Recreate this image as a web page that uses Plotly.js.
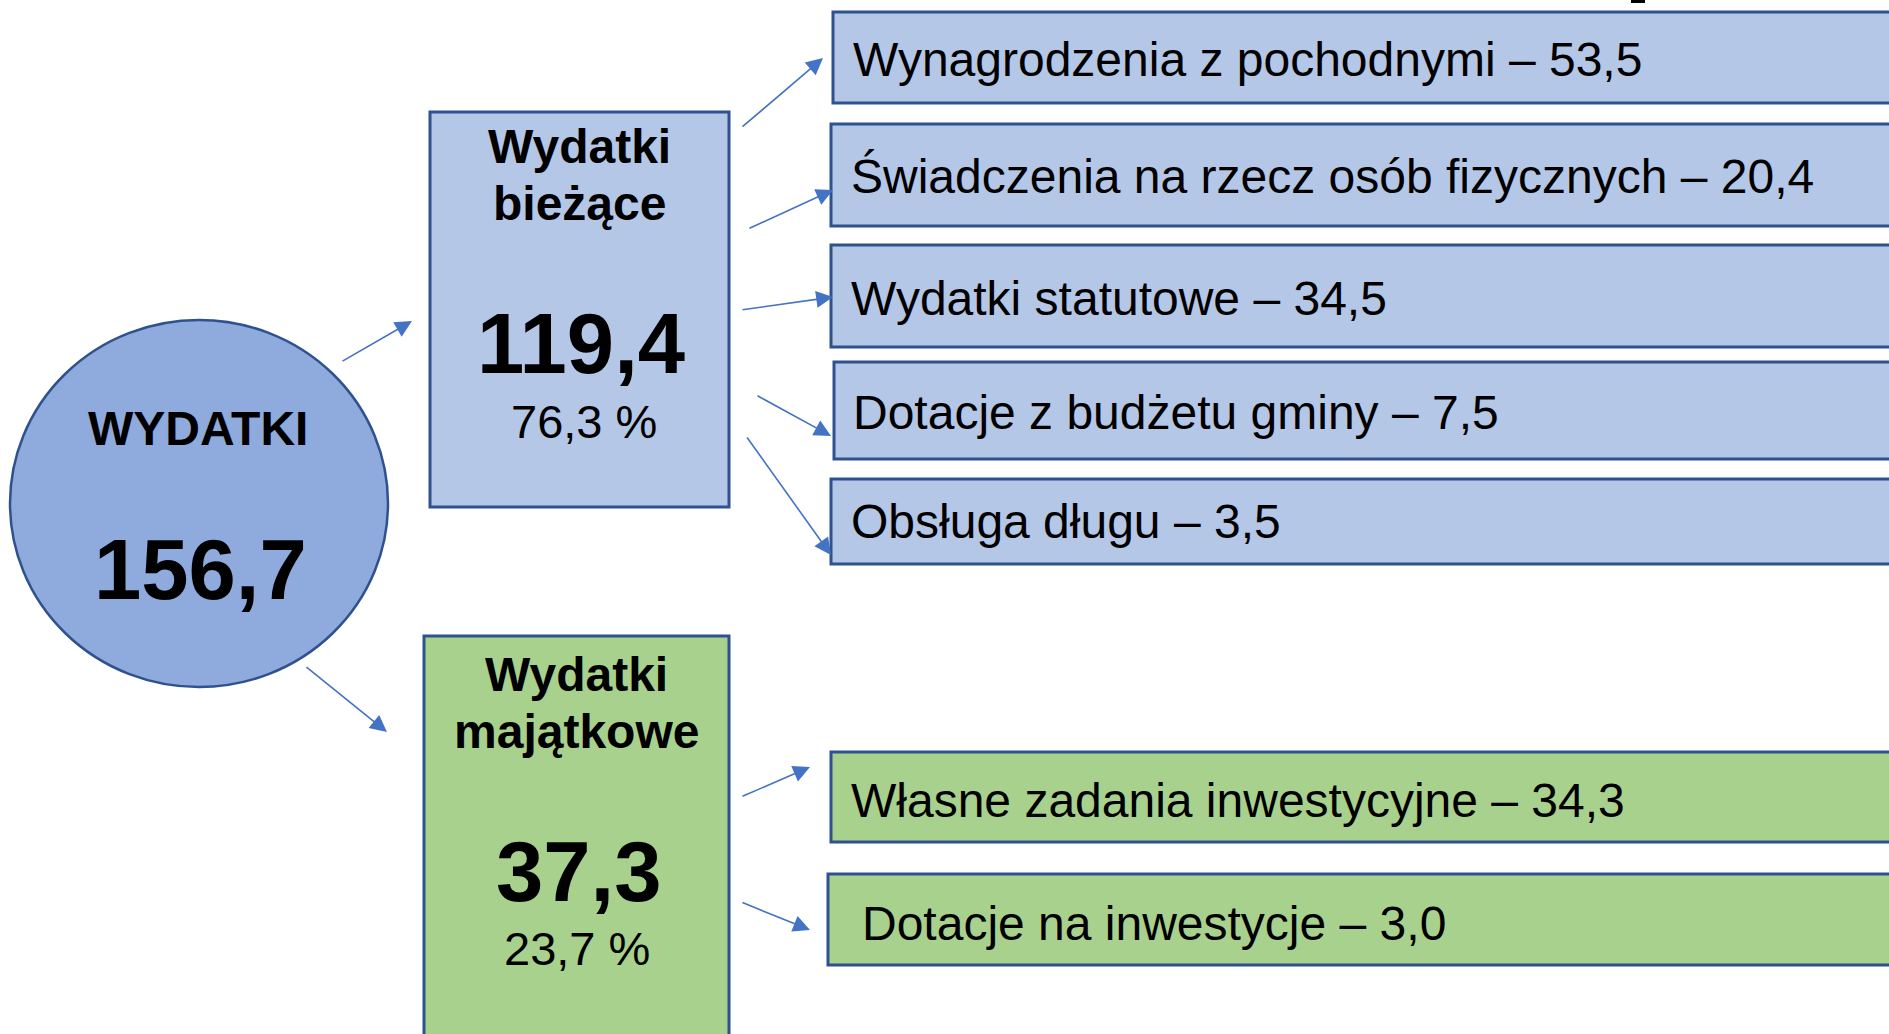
<!DOCTYPE html>
<html>
<head>
<meta charset="utf-8">
<script src="https://cdn.plot.ly/plotly-3.0.1.min.js"></script>
<style>
  html, body { margin: 0; padding: 0; background: #ffffff; }
  #chart { width: 1889px; height: 1034px; }
</style>
</head>
<body>
<div id="chart"></div>
<script>
// ---------- DATA ----------
const totalLabel = "WYDATKI";
const totalValue = 156.7;

const groupLabels = [["Wydatki", "bieżące"], ["Wydatki", "majątkowe"]];
const groupValues = [119.4, 37.3];
const groupShares = [76.3, 23.7];

const currentItems = [
  "Wynagrodzenia z pochodnymi",
  "Świadczenia na rzecz osób fizycznych",
  "Wydatki statutowe",
  "Dotacje z budżetu gminy",
  "Obsługa długu"
];
const currentValues = [53.5, 20.4, 34.5, 7.5, 3.5];

const capitalItems = ["Własne zadania inwestycyjne", "Dotacje na inwestycje"];
const capitalValues = [34.3, 3.0];

// ---------- LAYOUT GEOMETRY (pixels in a 1889 x 1034 data frame) ----------
const W = 1889, H = 1034;
const fmt = v => v.toFixed(1).replace('.', ',');

const C_BORDER = '#2F528F';
const C_ARROW = '#4472C4';
const C_CIRCLE = '#8FAADC';
const C_BLUE = '#B4C7E7';
const C_GREEN = '#A9D18E';
const FONT = 'Liberation Sans, Arial, sans-serif';

const circleBox = {x0: 10, x1: 388, y0: 320, y1: 687};
const groupBoxes = [
  {x0: 430, x1: 729, y0: 112, y1: 507, fill: C_BLUE, cx: 579,
   lineY: [146.7, 203.4], numY: 343.8, pctY: 421.7, pctX: 584},
  {x0: 424, x1: 729, y0: 636, y1: 1045, fill: C_GREEN, cx: 576,
   lineY: [674.4, 731.7], numY: 871.5, pctY: 948.7, pctX: 577}
];
const currentBoxes = [
  {x0: 833, y0: 12, y1: 103, tx: 851, ty: 59.5},
  {x0: 831, y0: 124, y1: 226, tx: 849, ty: 176.1},
  {x0: 831, y0: 245, y1: 347, tx: 849, ty: 298.2},
  {x0: 834, y0: 362, y1: 459, tx: 851, ty: 412.7},
  {x0: 831, y0: 479, y1: 564, tx: 849, ty: 521.7}
];
const capitalBoxes = [
  {x0: 831, y0: 752, y1: 842, tx: 849, ty: 800.4},
  {x0: 828, y0: 874, y1: 965, tx: 860, ty: 923}
];
const arrows = [
  [341, 362, 412, 321],
  [305, 666, 387, 732],
  [741, 128, 823, 58],
  [748, 229, 833, 190],
  [741, 310, 833, 297],
  [756, 395, 831, 436],
  [746, 436, 831, 555],
  [741, 797, 810, 767],
  [741, 902, 810, 930]
];

const shapes = [];
const annotations = [];

function rect(b, fill) {
  shapes.push({type: 'rect', xref: 'x', yref: 'y', x0: b.x0, x1: b.x1 || 1900,
    y0: b.y0, y1: b.y1, fillcolor: fill, line: {color: C_BORDER, width: 3}, layer: 'below'});
}
function text(t, x, y, size, bold, xanchor) {
  annotations.push({xref: 'x', yref: 'y', x: x, y: y, text: bold ? '<b>' + t + '</b>' : t,
    showarrow: false, xanchor: xanchor || 'center', yanchor: 'middle',
    font: {family: FONT, size: size, color: '#000000'}});
}

// circle
shapes.push({type: 'circle', xref: 'x', yref: 'y', x0: circleBox.x0, x1: circleBox.x1,
  y0: circleBox.y0, y1: circleBox.y1, fillcolor: C_CIRCLE, line: {color: C_BORDER, width: 2.5}, layer: 'below'});
text(totalLabel, 198, 428.4, 48, true);
text(fmt(totalValue), 200, 569.3, 85, true);

// group boxes
groupBoxes.forEach((b, i) => {
  rect(b, b.fill);
  text(groupLabels[i][0], b.cx, b.lineY[0], 48, true);
  text(groupLabels[i][1], b.cx, b.lineY[1], 48, true);
  text(fmt(groupValues[i]), b.cx + 2, b.numY, 85, true);
  text(fmt(groupShares[i]) + ' %', b.pctX, b.pctY, 47, false);
});

// detail boxes
currentBoxes.forEach((b, i) => {
  rect(b, C_BLUE);
  text(currentItems[i] + ' – ' + fmt(currentValues[i]), b.tx, b.ty, 48, false, 'left');
});
capitalBoxes.forEach((b, i) => {
  rect(b, C_GREEN);
  text(capitalItems[i] + ' – ' + fmt(capitalValues[i]), b.tx, b.ty, 48, false, 'left');
});

// small cut-off mark at the top edge
shapes.push({type: 'rect', xref: 'x', yref: 'y', x0: 1631, x1: 1645, y0: -2, y1: 3,
  fillcolor: '#000000', line: {width: 0}});

// arrows
arrows.forEach(a => {
  annotations.push({xref: 'x', yref: 'y', axref: 'x', ayref: 'y',
    x: a[2], y: a[3], ax: a[0], ay: a[1], text: '', showarrow: true,
    arrowhead: 2, arrowsize: 2.1, arrowwidth: 1.6, arrowcolor: C_ARROW, standoff: 0});
});

const layout = {
  width: W, height: H,
  margin: {l: 0, r: 0, t: 0, b: 0, pad: 0},
  paper_bgcolor: '#ffffff', plot_bgcolor: '#ffffff',
  showlegend: false,
  xaxis: {range: [0, W], visible: false, fixedrange: true, showgrid: false, zeroline: false},
  yaxis: {range: [H, 0], visible: false, fixedrange: true, showgrid: false, zeroline: false},
  shapes: shapes,
  annotations: annotations
};

Plotly.newPlot('chart', [{x: [0], y: [0], mode: 'markers', marker: {opacity: 0}, hoverinfo: 'skip'}],
  layout, {staticPlot: true, displayModeBar: false});
</script>
</body>
</html>
